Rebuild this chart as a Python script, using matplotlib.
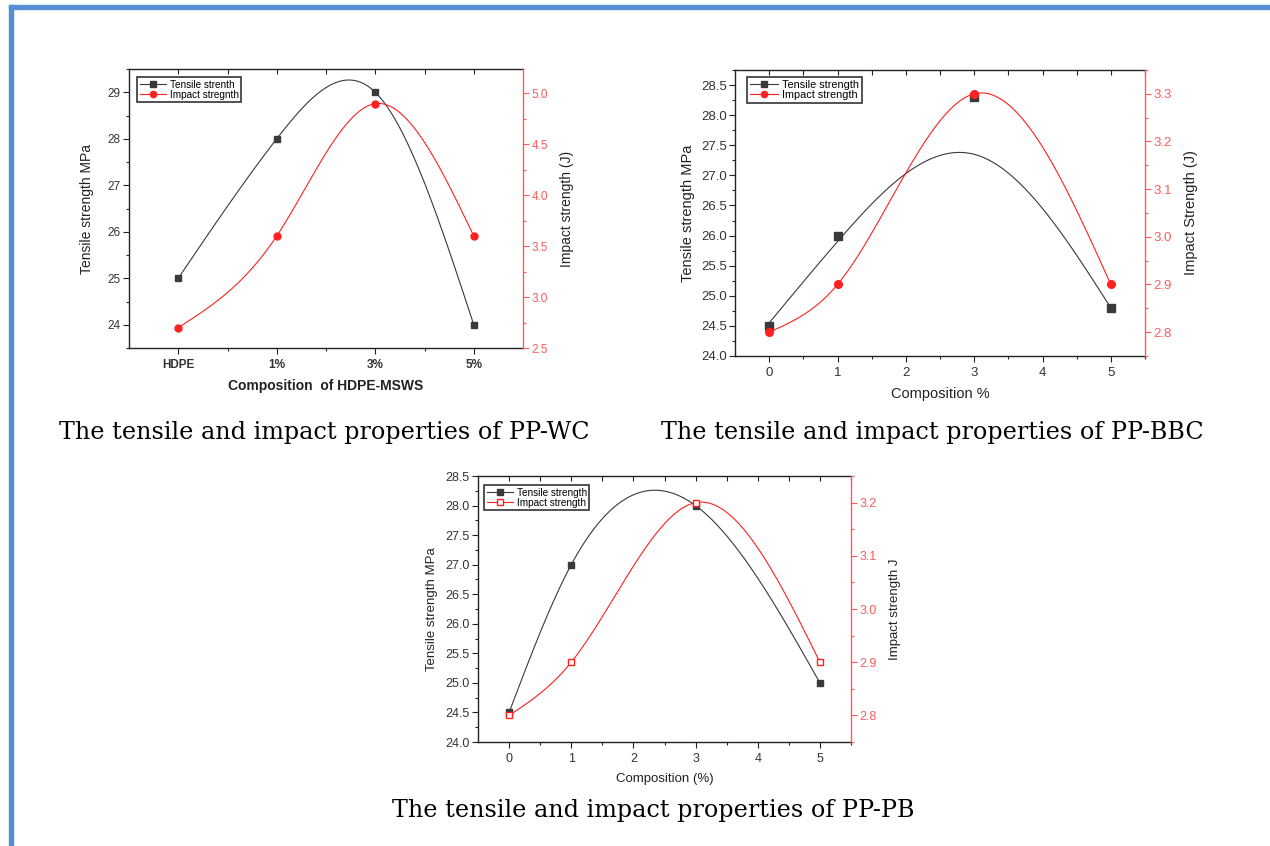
import numpy as np
import matplotlib
matplotlib.use('Agg')
import matplotlib.pyplot as plt
from matplotlib.ticker import MultipleLocator, FormatStrFormatter, FixedLocator
from matplotlib.patches import Rectangle
from matplotlib.lines import Line2D

plt.rcParams['font.family'] = ['Liberation Sans', 'DejaVu Sans']

W, H = 1270, 846

# ---------------- data ----------------
# Panel 1: PP-WC
wc_categories = ['HDPE', '1%', '3%', '5%']
wc_tensile = [25, 28, 29, 24]
wc_impact = [2.7, 3.6, 4.9, 3.6]

# Panel 2: PP-BBC
bbc_comp = [0, 1, 3, 5]
bbc_tensile = [24.5, 26.0, 28.3, 24.8]
bbc_impact = [2.8, 2.9, 3.3, 2.9]
# the drawn tensile curve (it does not pass through the 3% marker)
bbc_tensile_curve_x = [0, 1, 2, 3, 4, 5]
bbc_tensile_curve_y = [24.55, 25.9, 27.03, 27.35, 26.45, 24.8]

# Panel 3: PP-PB
pb_comp = [0, 1, 3, 5]
pb_tensile = [24.5, 27.0, 28.0, 25.0]
pb_impact = [2.8, 2.9, 3.2, 2.9]

titles = ['The tensile and impact properties of PP-WC',
          'The tensile and impact properties of PP-BBC',
          'The tensile and impact properties of PP-PB']

BLACK = '#3a3a3a'
RED = '#ff2020'
RED_AX = '#ff5a5a'


def natural_spline(x, y, n=300):
    x = np.asarray(x, float)
    y = np.asarray(y, float)
    k = len(x)
    h = np.diff(x)
    A = np.zeros((k, k))
    b = np.zeros(k)
    A[0, 0] = A[-1, -1] = 1
    for i in range(1, k - 1):
        A[i, i - 1] = h[i - 1]
        A[i, i] = 2 * (h[i - 1] + h[i])
        A[i, i + 1] = h[i]
        b[i] = 6 * ((y[i + 1] - y[i]) / h[i] - (y[i] - y[i - 1]) / h[i - 1])
    M = np.linalg.solve(A, b)
    xs = np.linspace(x[0], x[-1], n)
    idx = np.clip(np.searchsorted(x, xs, side='right') - 1, 0, k - 2)
    x0, x1 = x[idx], x[idx + 1]
    hh = x1 - x0
    ys = ((M[idx] * (x1 - xs) ** 3 + M[idx + 1] * (xs - x0) ** 3) / (6 * hh)
          + (y[idx] - M[idx] * hh ** 2 / 6) * (x1 - xs) / hh
          + (y[idx + 1] - M[idx + 1] * hh ** 2 / 6) * (xs - x0) / hh)
    return xs, ys


fig = plt.figure(figsize=(W / 100, H / 100), dpi=100)

# blue page border (top and left)
fig.patches.append(Rectangle((9 / W, 1 - 9 / H), 1 - 9 / W, 4 / H,
                             transform=fig.transFigure, color='#558ED5', zorder=0))
fig.patches.append(Rectangle((9 / W, 0), 4 / W, 1 - 5 / H,
                             transform=fig.transFigure, color='#558ED5', zorder=0))


def panel(box, xlim, xmajor, xminor, xticklabels, ylim, ymaj, ymin, yfmt,
          y2lim, y2maj, y2min, y2fmt, xlabel, ylabel, y2label, tick_fs, lab_fs,
          xlabel_bold=False, ylpad=4, y2pad=4):
    l, r, t, b = box
    ax = fig.add_axes([l / W, 1 - b / H, (r - l) / W, (b - t) / H])
    ax2 = ax.twinx()
    ax.set_xlim(*xlim)
    ax.set_ylim(*ylim)
    ax2.set_ylim(*y2lim)
    ax.xaxis.set_major_locator(FixedLocator(xmajor))
    ax.xaxis.set_minor_locator(FixedLocator(xminor))
    if xticklabels is not None:
        ax.set_xticklabels(xticklabels, fontweight='bold' if xlabel_bold else 'normal')
    ax.yaxis.set_major_locator(MultipleLocator(ymaj))
    ax.yaxis.set_minor_locator(MultipleLocator(ymin))
    if yfmt:
        ax.yaxis.set_major_formatter(FormatStrFormatter(yfmt))
    ax2.yaxis.set_major_locator(MultipleLocator(y2maj))
    ax2.yaxis.set_minor_locator(MultipleLocator(y2min))
    ax2.yaxis.set_major_formatter(FormatStrFormatter(y2fmt))

    for s in ['left', 'bottom']:
        ax.spines[s].set_color('#222222')
        ax.spines[s].set_linewidth(1.0)
    ax.spines['top'].set_visible(False)
    ax.spines['right'].set_visible(False)
    for s in ['left', 'bottom', 'top']:
        ax2.spines[s].set_visible(False)
    ax2.spines['right'].set_color(RED_AX)
    ax2.spines['right'].set_linewidth(1.0)

    ax.tick_params(axis='both', which='major', direction='out', length=4, width=0.8,
                   colors='#222222', labelcolor='#333333', labelsize=tick_fs, pad=2)
    ax.tick_params(axis='x', which='major', pad=4)
    ax.tick_params(axis='both', which='minor', direction='out', length=2.5, width=0.8,
                   colors='#222222')
    ax2.tick_params(axis='y', which='major', direction='out', length=4, width=0.8,
                    colors=RED_AX, labelcolor=RED_AX, labelsize=tick_fs, pad=2)
    ax2.tick_params(axis='y', which='minor', direction='out', length=2.5, width=0.8,
                    colors=RED_AX)

    sec = ax.secondary_xaxis('top')
    sec.set_xticks(sorted(list(xmajor) + list(xminor)))
    sec.tick_params(axis='x', direction='in', length=3.5, width=0.8, labeltop=False,
                    colors='#222222')
    sec.spines['top'].set_color('#222222')
    sec.spines['top'].set_linewidth(1.0)

    ax.set_xlabel(xlabel, fontsize=lab_fs, color='#222222',
                  fontweight='bold' if xlabel_bold else 'normal', labelpad=6)
    ax.set_ylabel(ylabel, fontsize=lab_fs, color='#222222', labelpad=ylpad)
    ax2.set_ylabel(y2label, fontsize=lab_fs, color='#222222', labelpad=y2pad)
    return ax, ax2


def legend(ax2, anchor_px, labels, impact_marker, impact_fill, fs):
    h1 = Line2D([], [], color=BLACK, lw=0.8, marker='s', ms=4.5, mfc=BLACK, mec=BLACK)
    h2 = Line2D([], [], color=RED, lw=0.8, marker=impact_marker, ms=4.5,
                mfc=impact_fill, mec=RED)
    leg = ax2.legend([h1, h2], labels, loc='upper left',
                     bbox_to_anchor=(anchor_px[0] / W, 1 - anchor_px[1] / H),
                     bbox_transform=fig.transFigure, borderaxespad=0,
                     fontsize=fs, frameon=True, fancybox=False, edgecolor='black',
                     handlelength=2.6, handletextpad=0.4, labelspacing=0.05,
                     borderpad=0.25)
    leg.get_frame().set_linewidth(1.2)
    leg.set_zorder(20)


# ---------- Panel 1 ----------
pos1 = list(range(len(wc_categories)))
ax, ax2 = panel((129, 523, 69, 348), (-0.5, 3.5), pos1, [0.5, 1.5, 2.5], wc_categories,
                (23.5, 29.5), 1, 0.5, '%d',
                (2.5, 5.24), 0.5, 0.25, '%.1f',
                'Composition  of HDPE-MSWS', 'Tensile strength MPa', 'Impact strength (J)',
                8.5, 10, xlabel_bold=True, ylpad=10, y2pad=9)
xs, ys = natural_spline(pos1, wc_tensile)
ax.plot(xs, ys, color=BLACK, lw=0.8)
ax.plot(pos1, wc_tensile, 's', color=BLACK, ms=5)
xs, ys = natural_spline(pos1, wc_impact)
ax2.plot(xs, ys, color=RED, lw=0.8)
ax2.plot(pos1, wc_impact, 'o', color=RED, ms=5)
legend(ax2, (137, 77), ['Tensile strenth', 'Impact stregnth'], 'o', RED, 7.2)

# ---------- Panel 2 ----------
ax, ax2 = panel((735, 1145, 70, 356), (-0.5, 5.5), [0, 1, 2, 3, 4, 5],
                [0.5, 1.5, 2.5, 3.5, 4.5, 5.5], None,
                (24.0, 28.75), 0.5, 0.25, '%.1f',
                (2.75, 3.35), 0.1, 0.05, '%.1f',
                'Composition %', 'Tensile strength MPa', 'Impact Strength (J)',
                9.5, 10.5, ylpad=4, y2pad=9)
xs, ys = natural_spline(bbc_tensile_curve_x, bbc_tensile_curve_y)
ax.plot(xs, ys, color=BLACK, lw=0.8)
ax.plot(bbc_comp, bbc_tensile, 's', color=BLACK, ms=5.5)
xs, ys = natural_spline(bbc_comp, bbc_impact)
ax2.plot(xs, ys, color=RED, lw=0.8)
ax2.plot(bbc_comp, bbc_impact, 'o', color=RED, ms=5.5)
legend(ax2, (747, 77), ['Tensile strength', 'Impact strength'], 'o', RED, 7.8)

# ---------- Panel 3 ----------
ax, ax2 = panel((478, 851, 476, 742), (-0.5, 5.5), [0, 1, 2, 3, 4, 5],
                [0.5, 1.5, 2.5, 3.5, 4.5, 5.5], None,
                (24.0, 28.5), 0.5, 0.25, '%.1f',
                (2.75, 3.25), 0.1, 0.05, '%.1f',
                'Composition (%)', 'Tensile strength MPa', 'Impact strength J',
                9, 9.5, ylpad=5, y2pad=9)
xs, ys = natural_spline(pb_comp, pb_tensile)
ax.plot(xs, ys, color=BLACK, lw=0.8)
ax.plot(pb_comp, pb_tensile, 's', color=BLACK, ms=5)
xs, ys = natural_spline(pb_comp, pb_impact)
ax2.plot(xs, ys, color=RED, lw=0.8)
ax2.plot(pb_comp, pb_impact, 's', mfc='white', mec=RED, mew=1.0, ms=5)
legend(ax2, (484, 485), ['Tensile strength', 'Impact strength'], 's', 'white', 7.2)

# ---------- titles ----------
fig.text(324 / W, 1 - 432 / H, titles[0], ha='center', va='center',
         fontsize=17.2, family='DejaVu Serif', color='black')
fig.text(932 / W, 1 - 432 / H, titles[1], ha='center', va='center',
         fontsize=17.2, family='DejaVu Serif', color='black')
fig.text(653 / W, 1 - 810 / H, titles[2], ha='center', va='center',
         fontsize=17.2, family='DejaVu Serif', color='black')

fig.savefig('out.png', dpi=100)
